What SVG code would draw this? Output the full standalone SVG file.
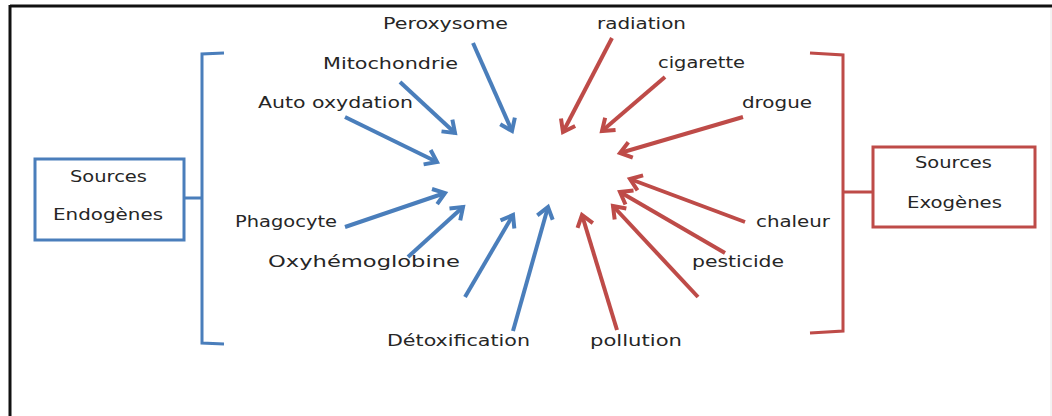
<svg xmlns="http://www.w3.org/2000/svg" width="1052" height="416" viewBox="0 0 1052 416">
<style>
text{font-family:"DejaVu Sans","Liberation Sans",sans-serif;font-size:15px;fill:#262626}
.b{stroke:#4a7ebb;stroke-width:4;fill:none}
.r{stroke:#be4b48;stroke-width:4;fill:none}
.bb{stroke:#4a7ebb;stroke-width:3;fill:none}
.rb{stroke:#be4b48;stroke-width:3;fill:none}
</style>
<defs>
<marker id="ab" markerUnits="userSpaceOnUse" markerWidth="24" markerHeight="24" refX="14" refY="10" orient="auto" overflow="visible">
<path d="M3,2 L14,10 L3,18" fill="none" stroke="#4a7ebb" stroke-width="4" stroke-linejoin="miter"/>
</marker>
<marker id="ar" markerUnits="userSpaceOnUse" markerWidth="24" markerHeight="24" refX="14" refY="10" orient="auto" overflow="visible">
<path d="M3,2 L14,10 L3,18" fill="none" stroke="#be4b48" stroke-width="4" stroke-linejoin="miter"/>
</marker>
</defs>
<rect width="1052" height="416" fill="#fff"/>
<g id="frame">
<line x1="10" y1="6" x2="1052" y2="6" stroke="#111" stroke-width="3"/>
<line x1="10" y1="5" x2="10" y2="416" stroke="#111" stroke-width="3"/>
<line x1="1051" y1="8" x2="1051" y2="416" stroke="#e6e6e6" stroke-width="1"/>
</g>
<g id="endogenes">
<rect class="bb" x="35" y="159" width="149" height="81"/>
<text x="70" y="182" textLength="77" lengthAdjust="spacingAndGlyphs">Sources</text>
<text x="53" y="220" textLength="110" lengthAdjust="spacingAndGlyphs">Endogènes</text>
<path class="bb" d="M224,53 L202,54 L202,343 L224,344 M184,198 L202,198"/>
</g>
<g id="exogenes">
<rect class="rb" x="873" y="147" width="162" height="80"/>
<text x="915" y="168" textLength="77" lengthAdjust="spacingAndGlyphs">Sources</text>
<text x="907" y="208" textLength="95" lengthAdjust="spacingAndGlyphs">Exogènes</text>
<path class="rb" d="M810,53 L843,55 L843,331 L810,333 M843,192 L873,192"/>
</g>
<g id="labels">
<text x="383" y="29" textLength="125" lengthAdjust="spacingAndGlyphs">Peroxysome</text>
<text x="323" y="69" textLength="135" lengthAdjust="spacingAndGlyphs">Mitochondrie</text>
<text x="258" y="108" textLength="155" lengthAdjust="spacingAndGlyphs">Auto oxydation</text>
<text x="235" y="227" textLength="102" lengthAdjust="spacingAndGlyphs">Phagocyte</text>
<text x="268" y="267" textLength="192" lengthAdjust="spacingAndGlyphs">Oxyhémoglobine</text>
<text x="387" y="346" textLength="143" lengthAdjust="spacingAndGlyphs">Détoxification</text>
<text x="590" y="346" textLength="92" lengthAdjust="spacingAndGlyphs">pollution</text>
<text x="597" y="29" textLength="89" lengthAdjust="spacingAndGlyphs">radiation</text>
<text x="658" y="68" textLength="87" lengthAdjust="spacingAndGlyphs">cigarette</text>
<text x="742" y="108" textLength="70" lengthAdjust="spacingAndGlyphs">drogue</text>
<text x="756" y="227" textLength="74" lengthAdjust="spacingAndGlyphs">chaleur</text>
<text x="692" y="267" textLength="92" lengthAdjust="spacingAndGlyphs">pesticide</text>
</g>
<g id="connectors">
<line class="b" x1="473" y1="43" x2="512" y2="131" marker-end="url(#ab)"/>
<line class="b" x1="400" y1="82" x2="455" y2="133" marker-end="url(#ab)"/>
<line class="b" x1="345" y1="117" x2="437" y2="162" marker-end="url(#ab)"/>
<line class="b" x1="345" y1="227" x2="445" y2="193" marker-end="url(#ab)"/>
<line class="b" x1="408" y1="257" x2="463" y2="207" marker-end="url(#ab)"/>
<line class="b" x1="465" y1="297" x2="513" y2="215" marker-end="url(#ab)"/>
<line class="b" x1="513" y1="331" x2="548" y2="207" marker-end="url(#ab)"/>
<line class="r" x1="612" y1="38" x2="563" y2="132" marker-end="url(#ar)"/>
<line class="r" x1="665" y1="77" x2="602" y2="131" marker-end="url(#ar)"/>
<line class="r" x1="743" y1="117" x2="620" y2="153" marker-end="url(#ar)"/>
<line class="r" x1="745" y1="222" x2="630" y2="179" marker-end="url(#ar)"/>
<line class="r" x1="725" y1="253" x2="620" y2="192" marker-end="url(#ar)"/>
<line class="r" x1="698" y1="297" x2="613" y2="206" marker-end="url(#ar)"/>
<line class="r" x1="617" y1="330" x2="582" y2="215" marker-end="url(#ar)"/>
</g>
</svg>
